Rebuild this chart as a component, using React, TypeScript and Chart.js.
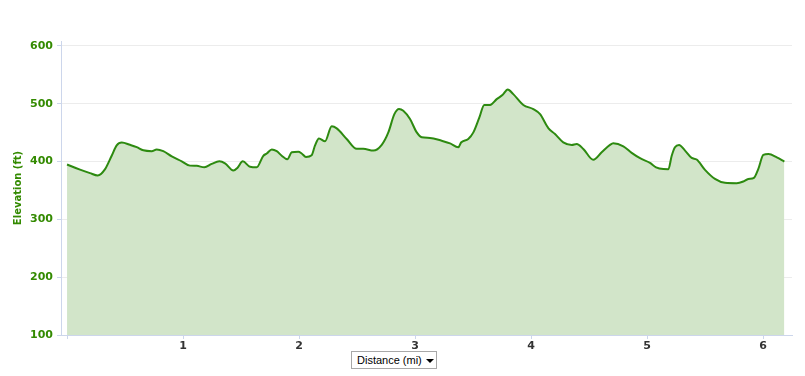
import React, { useEffect, useRef } from "react";
import { Chart, registerables } from "chart.js";

Chart.register(...registerables);

const distanceMi: number[] = [
  0, 0.112, 0.198, 0.265, 0.328, 0.385, 0.428, 0.472, 0.543, 0.601,
  0.658, 0.73, 0.773, 0.83, 0.903, 0.989, 1.06, 1.118, 1.184, 1.247,
  1.313, 1.362, 1.434, 1.468, 1.515, 1.578, 1.635, 1.692, 1.722, 1.765,
  1.808, 1.851, 1.899, 1.937, 1.994, 2.023, 2.06, 2.109, 2.138, 2.172,
  2.224, 2.282, 2.325, 2.411, 2.497, 2.554, 2.641, 2.713, 2.77, 2.822,
  2.862, 2.899, 2.957, 3.015, 3.058, 3.129, 3.23, 3.302, 3.373, 3.397,
  3.459, 3.503, 3.554, 3.597, 3.647, 3.704, 3.756, 3.799, 3.847, 3.934,
  4.02, 4.078, 4.149, 4.207, 4.278, 4.351, 4.394, 4.451, 4.537, 4.609,
  4.681, 4.709, 4.796, 4.868, 4.94, 5.026, 5.078, 5.141, 5.184, 5.213,
  5.241, 5.276, 5.328, 5.385, 5.428, 5.5, 5.586, 5.672, 5.773, 5.83,
  5.873, 5.922, 5.959, 6.003, 6.047, 6.119, 6.184,
];

const elevationFt: number[] = [
  395, 386, 380, 376, 387, 410, 428, 433, 429, 425,
  419.5, 418, 421, 418, 409, 400.5, 393, 392.6, 390, 396,
  400.5, 397, 384.5, 389, 400.5, 391, 390, 410, 414, 421,
  418, 410, 404, 416, 417, 414, 408, 411, 428, 440,
  435, 461, 457.5, 439, 422, 422, 419, 429, 450.5, 482,
  491, 488, 473.6, 450.5, 442, 441, 436, 431.6, 424.7, 433,
  439, 450.5, 476, 498, 498, 508, 515.5, 524.7, 516.7, 498,
  490.8, 482, 458, 447.7, 433.3, 428.8, 430.5, 421.8, 403, 416,
  428.8, 431.6, 426.4, 415, 405.8, 397.7, 390, 387, 386.8, 410,
  424.7, 428.8, 419, 406.4, 403.5, 385.7, 370, 363.3, 362.6, 365.5,
  370, 372, 387, 411.5, 413, 407.4, 400,
];

const xTickValues: number[] = [0, 1, 2, 3, 4, 5, 6];
const yTickValues: number[] = [100, 200, 300, 400, 500, 600];

const yTitle = "Elevation (ft)";
const xSelectorLabel = "Distance (mi)";

export default function App() {
  const canvasRef = useRef<HTMLCanvasElement | null>(null);

  useEffect(() => {
    const canvas = canvasRef.current;
    if (!canvas) return;
    const points = distanceMi.map((d, i) => ({ x: d, y: elevationFt[i] }));
    const chart = new Chart(canvas, {
      type: "line",
      data: {
        datasets: [
          {
            data: points,
            borderColor: "#2d8a10",
            borderWidth: 2,
            backgroundColor: "#d2e5c9",
            fill: "start",
            pointRadius: 0,
            cubicInterpolationMode: "monotone",
          },
        ],
      },
      options: {
        animation: false,
        responsive: false,
        maintainAspectRatio: false,
        layout: { padding: { top: 41, right: 13, left: 0, bottom: 0 } },
        plugins: {
          legend: { display: false },
          tooltip: { enabled: false },
        },
        scales: {
          x: {
            type: "linear",
            min: -0.052,
            max: 6.25,
            afterBuildTicks: (scale: any) => {
              scale.ticks = xTickValues.map((v) => ({ value: v }));
            },
            afterFit: (scale: any) => {
              scale.height = 41;
            },
            border: { color: "#ccd6eb", width: 1 },
            grid: {
              drawOnChartArea: false,
              drawTicks: true,
              tickLength: 4,
              tickColor: "#ccd6eb",
            },
            ticks: {
              padding: 1,
              color: "#333333",
              font: { family: "Verdana, 'DejaVu Sans', sans-serif", size: 11, weight: "bold" },
              maxRotation: 0,
              autoSkip: false,
              callback: (v: any) => (v === 0 ? "" : String(v)),
            },
          },
          y: {
            type: "linear",
            min: 100,
            max: 608.6,
            afterBuildTicks: (scale: any) => {
              scale.ticks = yTickValues.map((v) => ({ value: v }));
            },
            afterFit: (scale: any) => {
              scale.width = 61;
            },
            border: { color: "#ccd6eb", width: 1 },
            grid: {
              color: "#ececec",
              tickLength: 4,
              tickColor: "#ccd6eb",
            },
            ticks: {
              padding: 4,
              color: "#338a00",
              font: { family: "Verdana, 'DejaVu Sans', sans-serif", size: 11, weight: "bold" },
              autoSkip: false,
            },
            title: {
              display: true,
              text: yTitle,
              color: "#338a00",
              font: { family: "Verdana, 'DejaVu Sans', sans-serif", size: 10, weight: "bold" },
              padding: { top: 12, bottom: 0 },
            },
          },
        },
      },
    });
    return () => chart.destroy();
  }, []);

  return (
    <div style={{ position: "fixed", left: 0, top: 0, width: 805, height: 376, background: "#fff" }}>
      <canvas ref={canvasRef} width={805} height={376} style={{ position: "absolute", left: 0, top: 0, width: 805, height: 376 }} />
      <div
        style={{
          position: "absolute",
          left: 351,
          top: 351,
          width: 84,
          height: 16,
          border: "1px solid #a8a8a8",
          background: "#fff",
          fontFamily: "Arial, 'Liberation Sans', sans-serif",
          fontSize: 11,
          lineHeight: "16px",
          color: "#000",
          boxSizing: "content-box",
        }}
      >
        <span style={{ position: "absolute", left: 5, top: 0, whiteSpace: "nowrap" }}>{xSelectorLabel}</span>
        <span
          style={{
            position: "absolute",
            left: 74,
            top: 7,
            width: 0,
            height: 0,
            borderLeft: "4px solid transparent",
            borderRight: "4px solid transparent",
            borderTop: "4px solid #000",
          }}
        />
      </div>
    </div>
  );
}
